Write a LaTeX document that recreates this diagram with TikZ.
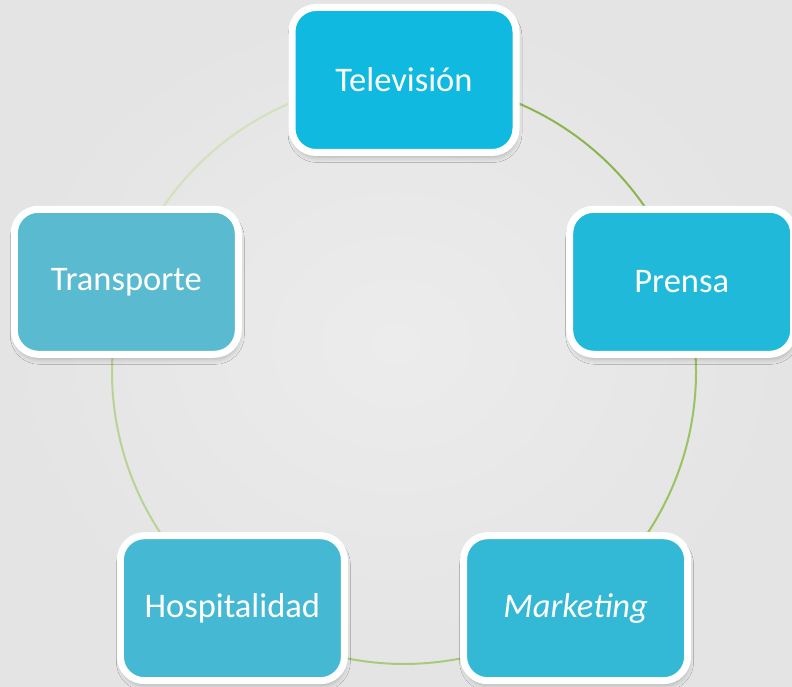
\documentclass[tikz,border=0pt]{standalone}
\usepackage{fontspec}
\setmainfont{Carlito}
\usetikzlibrary{shadows.blur,backgrounds}
\definecolor{bgc}{HTML}{E4E4E4}
\definecolor{bgl}{HTML}{ECECEC}
\definecolor{cTV}{HTML}{0FB9E0}
\definecolor{cPR}{HTML}{20B9DA}
\definecolor{cMK}{HTML}{33B8D6}
\definecolor{cHO}{HTML}{45B8D3}
\definecolor{cTR}{HTML}{59BAD0}
\definecolor{aA}{HTML}{8DB54F}
\definecolor{aB}{HTML}{9CC263}
\definecolor{aC}{HTML}{A9CA7C}
\definecolor{aD}{HTML}{B8D395}
\definecolor{aE}{HTML}{D2E1B9}
\tikzset{
  cyclebox/.style={draw=white, line width=7pt, rounded corners=24pt,
    minimum width=224pt, minimum height=145pt, inner sep=0pt,
    text=white, font=\fontsize{34.5}{40}\selectfont,
    blur shadow={shadow xshift=1pt, shadow yshift=-5pt, shadow blur radius=5pt, shadow opacity=22}},
  cyclearc/.style={line width=2pt}
}
\begin{document}
\begin{tikzpicture}[x=1pt,y=1pt]
\useasboundingbox (0,0) rectangle (792,686);
\node[cyclebox, fill=cTV] (tv) at (404,606) {Televisión};
\node[cyclebox, fill=cPR] (pr) at (681.7,404.2) {Prensa};
\node[cyclebox, fill=cMK] (mk) at (575.6,77.8) {\itshape Marketing};
\node[cyclebox, fill=cHO] (ho) at (232.4,77.8) {Hospitalidad};
\node[cyclebox, fill=cTR] (tr) at (126.3,404.2) {Transporte};
\begin{pgfonlayer}{background}
\fill[inner color=bgl, outer color=bgc] (0,0) rectangle (792,686);
\draw[cyclearc, aA] (tv.center) arc[start angle=90, end angle=18, radius=292];
\draw[cyclearc, aB] (pr.center) arc[start angle=18, end angle=-54, radius=292];
\draw[cyclearc, aC] (mk.center) arc[start angle=-54, end angle=-126, radius=292];
\draw[cyclearc, aD] (ho.center) arc[start angle=234, end angle=162, radius=292];
\draw[cyclearc, aE] (tr.center) arc[start angle=162, end angle=90, radius=292];
\end{pgfonlayer}
\end{tikzpicture}
\end{document}
